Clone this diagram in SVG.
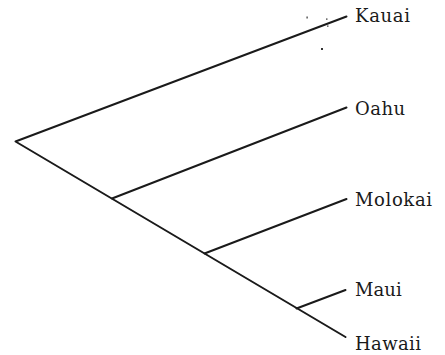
<svg xmlns="http://www.w3.org/2000/svg" width="445" height="355" viewBox="0 0 445 355">
  <style>
    .branch { fill: none; stroke: #1a1a1a; stroke-width: 2; stroke-linecap: round; stroke-linejoin: round; }
    .taxon { font-family: "DejaVu Serif", "Liberation Serif", serif; font-size: 18px; fill: #1a1a1a; }
    .speck { fill: #333; }
  </style>
  <rect width="445" height="355" fill="#ffffff"/>

  <!-- tree branches -->
  <g id="connectors">
    <polyline class="branch" points="346.5,16.5 15.5,141.5 345.5,337"/>
    <line class="branch" x1="112" y1="198.5" x2="346.5" y2="107.5"/>
    <line class="branch" x1="204.5" y1="253.5" x2="346.5" y2="199"/>
    <line class="branch" x1="296.5" y1="308.5" x2="345.5" y2="290"/>
  </g>

  <!-- small print specks -->
  <g id="specks">
    <rect class="speck" x="306.5" y="16.5" width="1.2" height="2"/>
    <rect class="speck" x="326" y="18.5" width="1.5" height="1.2"/>
    <rect class="speck" x="327" y="25.5" width="1.5" height="1.2"/>
    <rect class="speck" x="321" y="48" width="2" height="2"/>
  </g>

  <!-- leaf labels -->
  <g id="kauai"><text class="taxon" x="355" y="21.7" textLength="55" lengthAdjust="spacing">Kauai</text></g>
  <g id="oahu"><text class="taxon" x="355" y="115" textLength="50" lengthAdjust="spacing">Oahu</text></g>
  <g id="molokai"><text class="taxon" x="355" y="205.5" textLength="77" lengthAdjust="spacing">Molokai</text></g>
  <g id="maui"><text class="taxon" x="355" y="295.5" textLength="46.7" lengthAdjust="spacing">Maui</text></g>
  <g id="hawaii"><text class="taxon" x="355" y="349.5" textLength="66" lengthAdjust="spacing">Hawaii</text></g>
</svg>
